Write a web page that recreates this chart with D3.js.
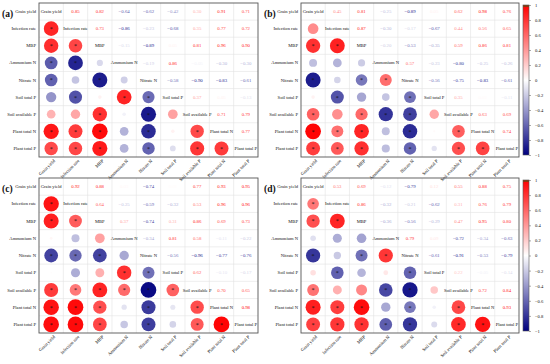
<!DOCTYPE html>
<html>
<head>
<meta charset="utf-8">
<script src="https://cdn.jsdelivr.net/npm/d3@7"></script>
<style>
  body { margin: 0; background: #fff; }
  svg { display: block; font-family: "Liberation Serif", "Times New Roman", serif; }
</style>
</head>
<body>
<script>
const width = 550;
const height = 364;

const variables = ['Grain yield', 'Infection rate', 'MBP', 'Ammonium N', 'Nitrate N',
    'Soil total P', 'Soil available P', 'Plant total N', 'Plant total P'];

// upper triangle, row by row (row i holds r with columns i+1 .. 8)
const panelA = [
    [0.85, 0.82, -0.64, -0.62, -0.42, 0.30, 0.91, 0.71],
    [0.73, -0.86, -0.23, -0.68, 0.35, 0.77, 0.72],
    [-0.15, -0.89, 0.05, 0.81, 0.96, 0.90],
    [-0.19, 0.86, -0.05, -0.30, -0.30],
    [-0.58, -0.90, -0.83, -0.61],
    [0.37, 0.05, -0.13],
    [0.71, 0.79],
    [0.77]
];
const panelB = [
    [0.45, 0.81, -0.25, -0.89, 0.05, 0.62, 0.98, 0.76],
    [0.87, -0.30, -0.17, -0.67, 0.44, 0.56, 0.65],
    [-0.20, -0.53, -0.35, 0.59, 0.86, 0.81],
    [0.57, -0.23, -0.80, -0.25, -0.26],
    [-0.56, -0.75, -0.83, -0.61],
    [0.35, 0.02, -0.11],
    [0.63, 0.69],
    [0.74]
];
const panelC = [
    [0.92, 0.88, 0.03, -0.74, 0.01, 0.77, 0.93, 0.95],
    [0.64, -0.25, -0.59, -0.32, 0.53, 0.96, 0.96],
    [0.37, -0.74, 0.31, 0.86, 0.69, 0.73],
    [-0.34, 0.81, 0.58, -0.11, -0.22],
    [-0.56, -0.96, -0.77, -0.76],
    [0.62, -0.10, -0.17],
    [0.70, 0.65],
    [0.98]
];
const panelD = [
    [0.53, 0.69, -0.12, -0.79, 0.12, 0.55, 0.88, 0.75],
    [0.86, -0.32, -0.21, -0.62, 0.31, 0.76, 0.79],
    [-0.36, -0.56, -0.29, 0.47, 0.95, 0.80],
    [0.79, 0.09, -0.72, -0.34, -0.63],
    [-0.61, -0.91, -0.53, -0.79],
    [0.22, -0.05, -0.14],
    [0.72, 0.84],
    [0.93]
];

const colorTicks = [1, 0.8, 0.6, 0.4, 0.2, 0, -0.2, -0.4, -0.6, -0.8, -1];
const starCut = 0.5;

function fullMatrix(upper) {
    const n = variables.length;
    const m = d3.range(n).map(() => new Array(n).fill(1));
    upper.forEach((row, i) => row.forEach((v, k) => {
        const j = i + 1 + k;
        m[i][j] = v;
        m[j][i] = v;
    }));
    return m;
}

const color = d3.scaleLinear()
    .domain([-1, 0, 1])
    .range(['#00007f', '#ffffff', '#ff0000']);

const svg = d3.select('body').append('svg')
    .attr('width', width)
    .attr('height', height);

const panels = [
    {tag: '(a)', upper: panelA, left: 39, right: 258, top: 3, bottom: 157, tagX: 2},
    {tag: '(b)', upper: panelB, left: 301, right: 519, top: 3, bottom: 157, tagX: 264},
    {tag: '(c)', upper: panelC, left: 39, right: 258, top: 178, bottom: 333, tagX: 2},
    {tag: '(d)', upper: panelD, left: 301, right: 519, top: 178, bottom: 333, tagX: 264}
];

panels.forEach(p => {
    const m = fullMatrix(p.upper);
    const x = d3.scaleBand().domain(variables).range([p.left, p.right]);
    const y = d3.scaleBand().domain(variables).range([p.top, p.bottom]);
    const rScale = d3.scaleSqrt().domain([0, 1]).range([0, Math.min(x.bandwidth(), y.bandwidth()) / 2 - 0.6]);
    const cells = [];
    variables.forEach((rv, i) => variables.forEach((cv, j) => {
        cells.push({i: i, j: j, row: rv, col: cv, v: m[i][j]});
    }));
    const cx = d => x(d.col) + x.bandwidth() / 2;
    const cy = d => y(d.row) + y.bandwidth() / 2;

    const g = svg.append('g');

    // grid
    g.append('g').selectAll('line')
        .data(variables.slice(1))
        .join('line')
        .attr('x1', d => x(d)).attr('x2', d => x(d))
        .attr('y1', p.top).attr('y2', p.bottom)
        .attr('stroke', '#e2e2e2').attr('stroke-width', 0.6);
    g.append('g').selectAll('line')
        .data(variables.slice(1))
        .join('line')
        .attr('y1', d => y(d)).attr('y2', d => y(d))
        .attr('x1', p.left).attr('x2', p.right)
        .attr('stroke', '#e2e2e2').attr('stroke-width', 0.6);

    // lower triangle: circles
    const lower = cells.filter(d => d.i > d.j);
    g.append('g').selectAll('circle')
        .data(lower)
        .join('circle')
        .attr('cx', cx)
        .attr('cy', cy)
        .attr('r', d => rScale(Math.abs(d.v)))
        .attr('fill', d => color(d.v));
    g.append('g').selectAll('text')
        .data(lower.filter(d => Math.abs(d.v) > starCut))
        .join('text')
        .attr('x', cx)
        .attr('y', d => cy(d) + 2.4)
        .attr('text-anchor', 'middle')
        .attr('font-size', 6)
        .attr('fill', '#111')
        .text('*');

    // upper triangle: numbers
    g.append('g').selectAll('text')
        .data(cells.filter(d => d.i < d.j))
        .join('text')
        .attr('x', cx)
        .attr('y', cy)
        .attr('dy', '0.35em')
        .attr('text-anchor', 'middle')
        .attr('font-size', 4.8)
        .attr('fill', d => color(d.v))
        .text(d => d3.format('.2f')(d.v));

    // diagonal: names
    g.append('g').selectAll('text')
        .data(cells.filter(d => d.i === d.j))
        .join('text')
        .attr('x', cx)
        .attr('y', cy)
        .attr('dy', '0.35em')
        .attr('text-anchor', 'middle')
        .attr('font-size', 4.6)
        .attr('fill', '#111')
        .text(d => d.row);

    // frame
    g.append('rect')
        .attr('x', p.left).attr('y', p.top)
        .attr('width', p.right - p.left).attr('height', p.bottom - p.top)
        .attr('fill', 'none').attr('stroke', '#555').attr('stroke-width', 0.9);

    // row labels
    g.append('g').selectAll('text')
        .data(variables)
        .join('text')
        .attr('x', p.left - 3)
        .attr('y', d => y(d) + y.bandwidth() / 2)
        .attr('dy', '0.35em')
        .attr('text-anchor', 'end')
        .attr('font-size', 4.6)
        .attr('fill', '#111')
        .text(d => d);

    // column labels
    g.append('g').selectAll('text')
        .data(variables)
        .join('text')
        .attr('transform', d => `translate(${x(d) + x.bandwidth() / 2 + 3},${p.bottom + 3}) rotate(-45)`)
        .attr('dy', '0.35em')
        .attr('text-anchor', 'end')
        .attr('font-size', 4.6)
        .attr('fill', '#111')
        .text(d => d);

    g.append('text')
        .attr('x', p.tagX)
        .attr('y', p.top + 14)
        .attr('font-size', 9.5)
        .attr('font-weight', 'bold')
        .attr('fill', '#111')
        .text(p.tag);
});

// colour bars (thin dark cap at the top, as in the original key)
const grad = svg.append('defs').append('linearGradient')
    .attr('id', 'cbar')
    .attr('x1', 0).attr('y1', 1).attr('x2', 0).attr('y2', 0);
const stops = d3.range(-1, 0.97, 0.05).map(v => ({o: (v + 1) / 2, c: color(v)}));
stops.push({o: 0.985, c: color(0.97)}, {o: 0.986, c: '#8b3a0f'}, {o: 1, c: '#8b3a0f'});
grad.selectAll('stop')
    .data(stops)
    .join('stop')
    .attr('offset', d => d.o)
    .attr('stop-color', d => d.c);

[{top: 5, bottom: 155}, {top: 180, bottom: 331}].forEach(b => {
    const s = d3.scaleLinear().domain([-1, 1]).range([b.bottom, b.top]);
    svg.append('rect')
        .attr('x', 523).attr('y', b.top)
        .attr('width', 6).attr('height', b.bottom - b.top)
        .attr('fill', 'url(#cbar)')
        .attr('stroke', '#555').attr('stroke-width', 0.6);
    const ax = svg.append('g')
        .attr('transform', 'translate(529,0)')
        .call(d3.axisRight(s).tickValues(colorTicks).tickSize(2).tickPadding(4).tickFormat(d3.format('')));
    ax.select('.domain').remove();
    ax.selectAll('line').attr('stroke', '#555').attr('stroke-width', 0.5);
    ax.selectAll('text')
        .attr('font-family', '"Liberation Serif", serif')
        .attr('font-size', 4.6)
        .attr('fill', '#111');
});
</script>
</body>
</html>
